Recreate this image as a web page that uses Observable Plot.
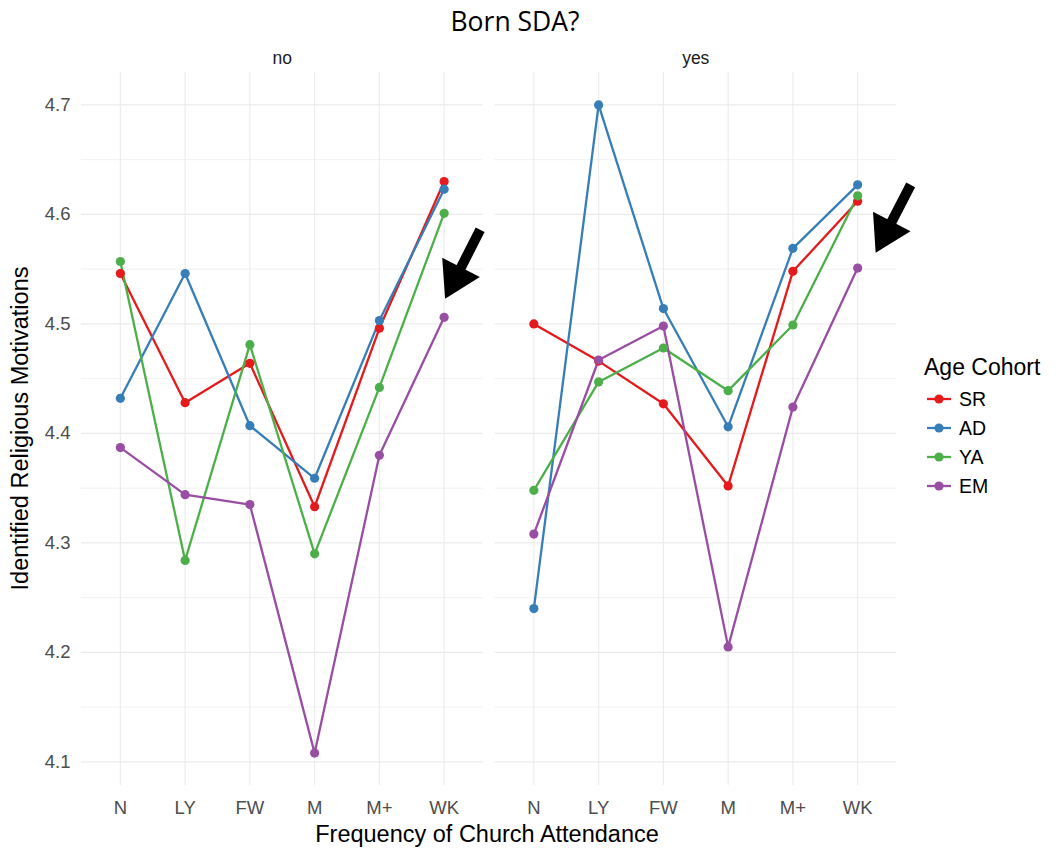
<!DOCTYPE html>
<html>
<head>
<meta charset="utf-8">
<script src="https://cdn.jsdelivr.net/npm/d3@7"></script>
<script src="https://cdn.jsdelivr.net/npm/@observablehq/plot@0.6"></script>
<style>
  body { margin: 0; background: #ffffff; }
  #wrap { position: relative; width: 1057px; height: 849px; overflow: hidden; }
  #wrap svg { position: absolute; left: 0; top: 0; }
</style>
</head>
<body>
<div id="wrap"></div>
<script>
// ---------- data ----------
const categories = ["N", "LY", "FW", "M", "M+", "WK"];
const cohorts = ["SR", "AD", "YA", "EM"];
const cohortColors = ["#E41A1C", "#377EB8", "#4DAF4A", "#984EA3"];
const facets = ["no", "yes"];

// Born SDA? = no
const noSR = [4.546, 4.428, 4.464, 4.333, 4.496, 4.630];
const noAD = [4.432, 4.546, 4.407, 4.359, 4.503, 4.623];
const noYA = [4.557, 4.284, 4.481, 4.290, 4.442, 4.601];
const noEM = [4.387, 4.344, 4.335, 4.108, 4.380, 4.506];
// Born SDA? = yes
const yesSR = [4.500, 4.466, 4.427, 4.352, 4.548, 4.612];
const yesAD = [4.240, 4.700, 4.514, 4.406, 4.569, 4.627];
const yesYA = [4.348, 4.447, 4.478, 4.439, 4.499, 4.617];
const yesEM = [4.308, 4.467, 4.498, 4.205, 4.424, 4.551];

const yMajorTicks = [4.1, 4.2, 4.3, 4.4, 4.5, 4.6, 4.7];
const yMinorTicks = [4.15, 4.25, 4.35, 4.45, 4.55, 4.65];

// annotation arrows (data units: x = category index, y = value)
const arrowFacet = ["no", "yes"];
const arrowTailX = [5.556, 5.819];
const arrowTailY = [4.586, 4.627];
const arrowTipX = [5.015, 5.278];
const arrowTipY = [4.523, 4.565];

const titleText = "Born SDA?";
const xTitle = "Frequency of Church Attendance";
const yTitle = "Identified Religious Motivations";
const legendTitle = "Age Cohort";

// ---------- build table ----------
const series = {
  no: {SR: noSR, AD: noAD, YA: noYA, EM: noEM},
  yes: {SR: yesSR, AD: yesAD, YA: yesYA, EM: yesEM}
};
const rows = [];
for (const f of facets)
  for (const c of cohorts)
    series[f][c].forEach((v, k) => rows.push({born: f, cohort: c, x: k, y: v}));

const arrows = arrowFacet.map((f, i) => ({
  born: f, x1: arrowTailX[i], y1: arrowTailY[i], x2: arrowTipX[i], y2: arrowTipY[i]
}));
const heads = arrows.map(a => ({
  born: a.born,
  x1: a.x2 + 4 * (a.x1 - a.x2), y1: a.y2 + 4 * (a.y1 - a.y2),
  x2: a.x2, y2: a.y2
}));

const ext = d3.extent(rows, d => d.y);
const pad = (ext[1] - ext[0]) * 0.05;
const xIdx = d3.range(categories.length);

const font = '"Liberation Sans", Arial, sans-serif';

const chart = Plot.plot({
  width: 1057,
  height: 849,
  marginLeft: 81,
  marginRight: 161,
  marginTop: 72,
  marginBottom: 64,
  style: {fontFamily: font, background: "transparent", overflow: "visible"},
  fx: {domain: facets, paddingInner: 12 / 413.5, paddingOuter: 0, round: false},
  x: {domain: [-0.6, categories.length - 1 + 0.6]},
  y: {domain: [ext[0] - pad, ext[1] + pad]},
  color: {domain: cohorts, range: cohortColors},
  marks: [
    Plot.gridY(yMinorTicks, {stroke: "#EBEBEB", strokeOpacity: 1, strokeWidth: 0.7}),
    Plot.gridY(yMajorTicks, {stroke: "#EBEBEB", strokeOpacity: 1, strokeWidth: 1.1}),
    Plot.gridX(xIdx, {stroke: "#EBEBEB", strokeOpacity: 1, strokeWidth: 1.1}),
    Plot.axisY(yMajorTicks, {tickSize: 0, tickPadding: 11, fontSize: 18.5, fill: "#4D4D4D", label: null, tickFormat: d3.format(".1f")}),
    Plot.axisX(xIdx, {tickSize: 0, tickPadding: 15, fontSize: 18.5, fill: "#4D4D4D", label: null, tickFormat: i => categories[i]}),
    Plot.axisFx({anchor: "top", tickSize: 0, tickPadding: 9, fontSize: 17.5, fill: "#1A1A1A", label: null}),
    Plot.line(rows, {fx: "born", x: "x", y: "y", z: "cohort", stroke: "cohort", strokeWidth: 2.3}),
    Plot.dot(rows, {fx: "born", x: "x", y: "y", fill: "cohort", r: 4.6}),
    Plot.arrow(arrows, {fx: "born", x1: "x1", y1: "y1", x2: "x2", y2: "y2", stroke: "black", strokeWidth: 10, headLength: 0, insetEnd: 28, strokeLinecap: "butt"}),
    Plot.arrow(heads, {fx: "born", x1: "x1", y1: "y1", x2: "x2", y2: "y2", stroke: "none", fill: "black", strokeWidth: 1.5, headLength: 41, headAngle: 62})
  ]
});

const wrap = document.getElementById("wrap");
wrap.appendChild(chart);

// ---------- overlay: title, axis titles, legend ----------
const ov = d3.select(wrap).append("svg")
  .attr("width", 1057).attr("height", 849)
  .style("pointer-events", "none")
  .style("font-family", font);

ov.append("text")
  .attr("x", 515).attr("y", 31)
  .attr("text-anchor", "middle")
  .style("font-family", '"Open Sans", Lato, sans-serif')
  .style("font-size", "26.5px")
  .attr("fill", "#000")
  .text(titleText);

ov.append("text")
  .attr("x", 487).attr("y", 842)
  .attr("text-anchor", "middle")
  .style("font-size", "23.5px")
  .attr("fill", "#000")
  .text(xTitle);

ov.append("text")
  .attr("transform", "translate(28,428.5) rotate(-90)")
  .attr("text-anchor", "middle")
  .style("font-size", "23.5px")
  .attr("fill", "#000")
  .text(yTitle);

ov.append("text")
  .attr("x", 924).attr("y", 375)
  .style("font-size", "23px")
  .attr("fill", "#000")
  .text(legendTitle);

const items = ov.append("g").selectAll("g").data(cohorts).join("g")
  .attr("transform", (d, i) => `translate(0,${399 + 29 * i})`);
items.append("line")
  .attr("x1", 927).attr("x2", 951)
  .attr("stroke", (d, i) => cohortColors[i]).attr("stroke-width", 2.3);
items.append("circle")
  .attr("cx", 939).attr("r", 4.6)
  .attr("fill", (d, i) => cohortColors[i]);
items.append("text")
  .attr("x", 959).attr("y", 7)
  .style("font-size", "19.5px")
  .attr("fill", "#000")
  .text(d => d);
</script>
</body>
</html>
